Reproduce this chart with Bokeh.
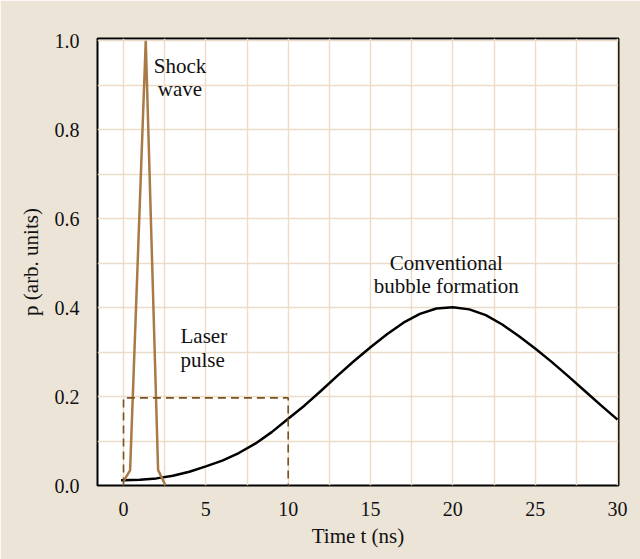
from bokeh.plotting import figure
from bokeh.models import Range1d, FixedTicker, PrintfTickFormatter, ColumnDataSource
from bokeh.core.properties import value
from bokeh.embed import file_html
from bokeh.resources import INLINE

# ---- data ----
bubble_t = [-0.15, 0, 1, 2, 3, 4, 5, 6, 7, 8, 9, 10, 11, 12, 13, 14, 15, 16, 17, 18, 19, 20,
            21, 22, 23, 24, 25, 26, 27, 28, 29, 30]
bubble_p = [0.012, 0.012, 0.013, 0.016, 0.022, 0.031, 0.043, 0.056, 0.073, 0.094, 0.120, 0.150,
            0.180, 0.213, 0.247, 0.280, 0.311, 0.340, 0.366, 0.386, 0.398, 0.401,
            0.396, 0.383, 0.362, 0.336, 0.308, 0.278, 0.246, 0.213, 0.180, 0.148]

shock_t = [0.0, 0.4, 1.35, 2.1, 2.55]
shock_p = [0.010, 0.034, 1.0, 0.035, 0.0]

laser_t = [0, 0, 10, 10]
laser_p = [0.0, 0.197, 0.197, 0.0]

x_ticks = [0, 5, 10, 15, 20, 25, 30]
x_minor = [2.5, 7.5, 12.5, 17.5, 22.5, 27.5]
y_ticks = [0.0, 0.2, 0.4, 0.6, 0.8, 1.0]
y_minor = [0.1, 0.3, 0.5, 0.7, 0.9]

notes_t = [3.43, 3.43, 3.46, 3.46, 19.6, 19.6]
notes_p = [0.944, 0.892, 0.337, 0.283, 0.4996, 0.449]
notes_text = ["Shock", "wave", "Laser", "pulse", "Conventional", "bubble formation"]
notes_align = ["center", "center", "left", "left", "center", "center"]

x_title = "Time t (ns)"
y_title = "p (arb. units)"

SERIF = "Liberation Serif"
BG = "#ede4d8"
GRID = "#ecdcc8"
BROWN = "#a97a45"
DARKBROWN = "#7a5220"

p = figure(width=640, height=559, output_backend="svg", toolbar_location=None,
           x_range=Range1d(-1.58, 30.06), y_range=Range1d(0, 1.005),
           min_border_left=97, min_border_right=22, min_border_top=38, min_border_bottom=74,
           background_fill_color="white", border_fill_color=BG,
           outline_line_color="black", outline_line_width=2)

xt = FixedTicker(ticks=x_ticks, minor_ticks=x_minor)
yt = FixedTicker(ticks=y_ticks, minor_ticks=y_minor)
p.xaxis.ticker = xt
p.yaxis.ticker = yt
p.xgrid.ticker = xt
p.ygrid.ticker = yt
p.yaxis.formatter = PrintfTickFormatter(format="%.1f")

for g in (p.xgrid, p.ygrid):
    g.grid_line_color = GRID
    g.grid_line_width = 1.5
    g.minor_grid_line_color = GRID
    g.minor_grid_line_width = 1.5

for ax in (p.xaxis, p.yaxis):
    ax.axis_line_color = None
    ax.major_tick_line_color = None
    ax.minor_tick_line_color = None
    ax.major_tick_out = 0
    ax.major_tick_in = 0
    ax.major_label_text_font = SERIF
    ax.major_label_text_font_size = "20px"
    ax.major_label_text_color = "#111111"
    ax.axis_label_text_font = SERIF
    ax.axis_label_text_font_size = "21px"
    ax.axis_label_text_font_style = "normal"
    ax.axis_label_text_color = "#111111"
p.yaxis.major_label_standoff = 14
p.xaxis.major_label_standoff = 12
p.xaxis.axis_label = x_title
p.yaxis.axis_label = y_title
p.xaxis.axis_label_standoff = 5
p.yaxis.axis_label_standoff = 9

# curves
p.line(bubble_t, bubble_p, line_color="black", line_width=2.5, line_join="round")
p.line(shock_t, shock_p, line_color=BROWN, line_width=2.5)
p.line(laser_t, laser_p, line_color=DARKBROWN, line_width=1.6, line_dash="8 5")

src = ColumnDataSource(dict(x=notes_t, y=notes_p, text=notes_text, align=notes_align))
p.text(x="x", y="y", text="text", text_align="align", source=src,
       text_font=value(SERIF), text_font_size="21px", text_color="#111111",
       text_baseline="alphabetic")

open("out.html", "w").write(file_html(p, INLINE))
